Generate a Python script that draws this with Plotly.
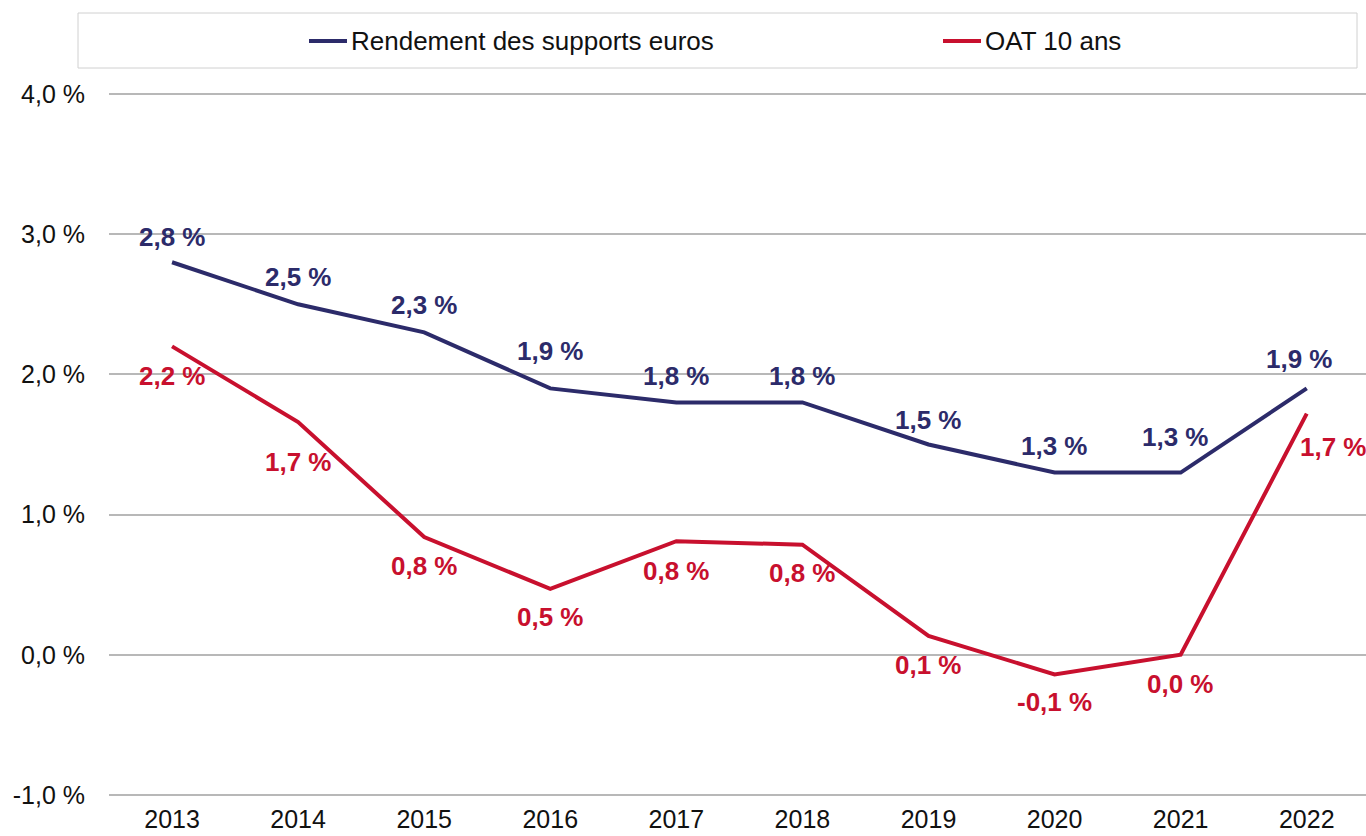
import plotly.graph_objects as go

years = ["2013", "2014", "2015", "2016", "2017", "2018", "2019", "2020", "2021", "2022"]
rendement_euros = [2.8, 2.5, 2.3, 1.9, 1.8, 1.8, 1.5, 1.3, 1.3, 1.9]
oat_10_ans = [2.2, 1.66, 0.84, 0.47, 0.81, 0.785, 0.135, -0.14, 0.0, 1.72]
y_tickvals = [-1, 0, 1, 2, 3, 4]
y_ticktext = ["-1,0 %", "0,0 %", "1,0 %", "2,0 %", "3,0 %", "4,0 %"]
series_names = ["Rendement des supports euros", "OAT 10 ans"]

BLUE = "#2c2b6a"
RED = "#c8102e"
FONT = "Liberation Sans, Arial"

def fmt(v):
    s = f"{v:.1f}".replace(".", ",")
    if s == "-0,0":
        s = "0,0"
    return s + " %"

# label offsets in pixels (style only): (dx, dy) with dy positive = downward
blue_shift = [(0, -25), (0, -27), (0, -27), (0, -37), (0, -26), (0, -26), (0, -25), (0, -27), (-5, -36), (-7, -29)]
red_shift = [(0, 30), (0, 40), (0, 29), (0, 28), (0, 30), (0, 28), (0, 29), (0, 28), (0, 29), (27, 33)]

fig = go.Figure()
fig.add_trace(go.Scatter(x=years, y=rendement_euros, mode="lines", name=series_names[0],
                         line=dict(color=BLUE, width=4)))
fig.add_trace(go.Scatter(x=years, y=oat_10_ans, mode="lines", name=series_names[1],
                         line=dict(color=RED, width=4)))

annotations = []
for vals, shifts, col in ((rendement_euros, blue_shift, BLUE), (oat_10_ans, red_shift, RED)):
    for i, v in enumerate(vals):
        dx, dy = shifts[i]
        annotations.append(dict(x=i, y=v, xref="x", yref="y", text="<b>" + fmt(v) + "</b>",
                                showarrow=False, xshift=dx, yshift=-dy,
                                font=dict(family=FONT, size=26, color=col)))

W, H = 1366, 836
# y: 4.0 at 94px, -1.0 at 795px; range padded by 0.05 so edge gridlines are drawn
pad = 0.05
ppu = (795 - 94) / 5.0
T = round(94 - pad * ppu)
B = H - round(795 + pad * ppu)
L, R = 109, 0
pw, ph = W - L - R, H - T - B

def px_x(x):
    return (x - L) / pw

def px_y(y):
    return (H - B - y) / ph

# manual legend (box, line keys, texts)
shapes = [dict(type="rect", xref="paper", yref="paper", x0=px_x(78), x1=px_x(1357),
               y0=px_y(68), y1=px_y(13), line=dict(color="#d0d0d0", width=1),
               fillcolor="rgba(0,0,0,0)", layer="below")]
legend_pos = [(309, BLUE), (943, RED)]
for name, (lx, col) in zip(series_names, legend_pos):
    shapes.append(dict(type="line", xref="paper", yref="paper", x0=px_x(lx), x1=px_x(lx + 38),
                       y0=px_y(41), y1=px_y(41), line=dict(color=col, width=4)))
    annotations.append(dict(x=px_x(lx + 40), y=px_y(41), xref="paper", yref="paper",
                            xanchor="left", yanchor="middle", text=name, showarrow=False,
                            font=dict(family=FONT, size=26, color="#111111")))

fig.update_layout(
    width=W, height=H,
    margin=dict(l=L, r=R, t=T, b=B, autoexpand=False),
    paper_bgcolor="white", plot_bgcolor="white",
    font=dict(family=FONT, size=25, color="#111111"),
    showlegend=False,
    annotations=annotations,
    shapes=shapes,
    xaxis=dict(type="category", range=[-0.5, 9.47], showgrid=False, zeroline=False, showline=False,
               ticks="", tickfont=dict(family=FONT, size=25, color="#111111")),
    yaxis=dict(range=[-1 - pad, 4 + pad], tickvals=y_tickvals, ticktext=y_ticktext, showgrid=True,
               gridcolor="#b8b8b8", gridwidth=1.5, zeroline=False, showline=False,
               ticks="outside", ticklen=18, tickcolor="rgba(0,0,0,0)",
               tickfont=dict(family=FONT, size=25, color="#111111")),
)

fig.write_html("out.html", config={"displayModeBar": False},
               post_script="document.body.style.margin='0';")
